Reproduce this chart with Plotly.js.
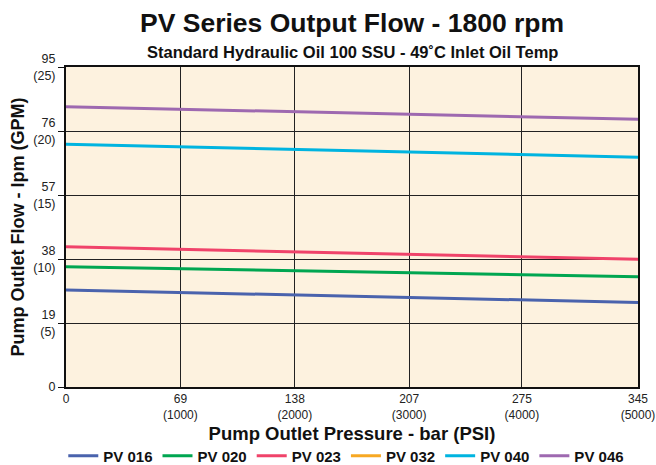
<!DOCTYPE html>
<html><head><meta charset="utf-8">
<script src="https://cdn.plot.ly/plotly-3.0.1.min.js"></script>
<style>html,body{margin:0;padding:0;background:#fff}</style>
</head><body>
<div id="chart" style="width:656px;height:465px"></div>
<script>
const pressure = [0, 345];
const pv016 = [28.8, 25.1];
const pv020 = [35.7, 32.7];
const pv023 = [41.6, 37.9];
const pv032 = [null, null];
const pv040 = [72.1, 68.2];
const pv046 = [83.2, 79.5];
const xTickVals = [0, 69, 138, 207, 275, 345];
const xTickText = ['0', '69<br>(1000)', '138<br>(2000)', '207<br>(3000)', '275<br>(4000)', '345<br>(5000)'];
const yTickVals = [0, 19, 38, 57, 76, 95];
const yTickText = ['0', '19<br>(5)', '38<br>(10)', '57<br>(15)', '76<br>(20)', '95<br>(25)'];
const names = ['PV 016', 'PV 020', 'PV 023', 'PV 032', 'PV 040', 'PV 046'];
const colors = ['#4a63ad', '#00a651', '#f0436a', '#f7a823', '#00b4e0', '#9e69b0'];
const series = [pv016, pv020, pv023, pv032, pv040, pv046];
const titleText = 'PV Series Output Flow - 1800 rpm';
const subtitleText = 'Standard Hydraulic Oil 100 SSU - 49˚C Inlet Oil Temp';

const traces = series.map((s, i) => ({
  x: pressure, y: s, name: '<b>' + names[i] + '</b>', type: 'scatter', mode: 'lines',
  line: {color: colors[i], width: 3}
}));

const font = {family: 'Liberation Sans, Arial, sans-serif', color: '#111'};
const layout = {
  width: 656, height: 465,
  margin: {l: 66, r: 18, t: 67, b: 78, autoexpand: false},
  paper_bgcolor: '#ffffff', plot_bgcolor: '#fdf2df',
  font: font,
  annotations: [
    {text: '<b>' + titleText + '</b>', xref: 'paper', yref: 'paper', x: 0.5, y: 1, yshift: 44,
     xanchor: 'center', yanchor: 'middle', showarrow: false, font: {size: 26.5, color: '#111'}},
    {text: '<b>' + subtitleText + '</b>', xref: 'paper', yref: 'paper', x: 0.5, y: 1, yshift: 15,
     xanchor: 'center', yanchor: 'middle', showarrow: false, font: {size: 16.5, color: '#111'}}
  ],
  xaxis: {range: [0, 345], tickvals: xTickVals, ticktext: xTickText, showgrid: true, gridcolor: '#222', gridwidth: 1,
          zeroline: false, showline: true, linecolor: '#111', linewidth: 2, mirror: true,
          ticks: '', tickfont: {size: 12, color: '#222'}, ticklabeloverflow: 'allow',
          title: {text: '<b>Pump Outlet Pressure - bar (PSI)</b>', font: {size: 18.5, color: '#111'}, standoff: 6}},
  yaxis: {range: [0, 95], tickvals: yTickVals, ticktext: yTickText, showgrid: true, gridcolor: '#222', gridwidth: 1,
          zeroline: false, showline: true, linecolor: '#111', linewidth: 2, mirror: true,
          ticks: 'outside', ticklen: 6, tickcolor: '#111', tickfont: {size: 12.5, color: '#222'},
          title: {text: '<b>Pump Outlet Flow - lpm (GPM)</b>', font: {size: 18, color: '#111'}, standoff: 4}},
  legend: {orientation: 'h', x: 0.49, xanchor: 'center', y: -0.164, yanchor: 'top',
           font: {size: 15, color: '#111'}, traceorder: 'normal', itemwidth: 30, tracegroupgap: 0},
  showlegend: true
};
Plotly.newPlot('chart', traces, layout, {displayModeBar: false, staticPlot: true});
</script>
</body></html>
